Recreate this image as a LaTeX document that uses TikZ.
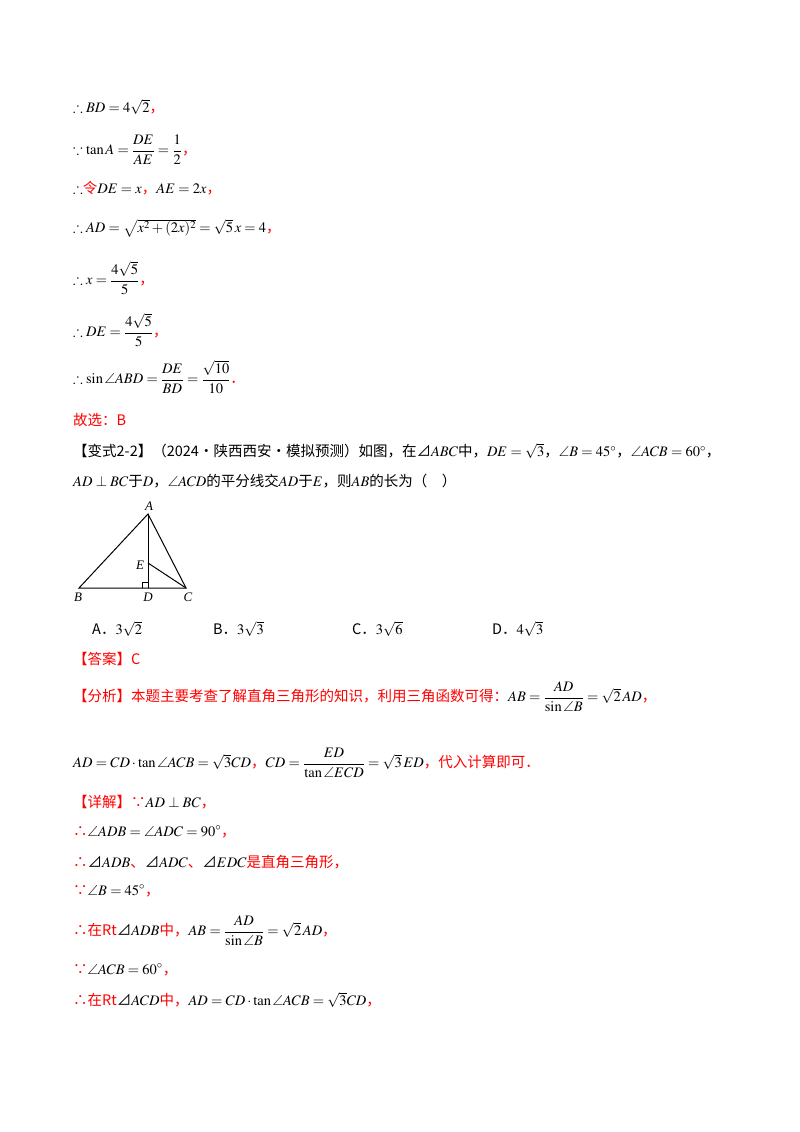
\documentclass[tikz,border=0pt]{standalone}
\usepackage{amsmath,amssymb}
\usepackage{mathptmx}
\usepackage{fontspec}
\setmainfont{Liberation Serif}
\newfontfamily\cjk{Noto Sans CJK SC}
\newcommand{\zh}[1]{{\cjk #1}}
\newcommand{\rz}[1]{\textcolor{red}{\cjk #1}}
\newcommand{\tri}{\text{\cjk ⊿}}
\begin{document}
\begin{tikzpicture}[x=1pt,y=-1pt,
  ln/.style={anchor=west,inner sep=0pt,font=\fontsize{14.5}{17}\selectfont},
  lbl/.style={inner sep=0pt,font=\fontsize{13}{15}\selectfont\itshape}]
\useasboundingbox (0,0) rectangle (800,1132);
\fill[white] (0,0) rectangle (800,1132);
\node[ln] (l1) at (73,107) {$\therefore BD=4\sqrt{2}$\rz{，}};
\node[ln] (l2) at (73,150) {$\because \tan A=\dfrac{DE}{AE}=\dfrac{1}{2}$\rz{，}};
\node[ln] (l3) at (73,188) {$\therefore$\rz{令}$DE=x$\rz{，}$AE=2x$\rz{，}};
\node[ln] (l4) at (73,228) {$\therefore AD=\sqrt{x^2+(2x)^2}=\sqrt{5}\,x=4$\rz{，}};
\node[ln] (l5) at (73,278) {$\therefore x=\dfrac{4\sqrt{5}}{5}$\rz{，}};
\node[ln] (l6) at (73,330) {$\therefore DE=\dfrac{4\sqrt{5}}{5}$\rz{，}};
\node[ln] (l7) at (73,377) {$\therefore \sin\angle ABD=\dfrac{DE}{BD}=\dfrac{\sqrt{10}}{10}$\rz{．}};
\node[ln] (l8) at (73,420) {\rz{故选：B}};
\node[ln] (l9) at (73,451) {\zh{【变式2-2】（2024·陕西西安·模拟预测）如图，在}$\tri ABC$\zh{中，}$DE=\sqrt{3}$\zh{，}$\angle B=45^\circ$\zh{，}$\angle ACB=60^\circ$\zh{，}};
\node[ln] (l10) at (73,481) {$AD\perp BC$\zh{于}$D$\zh{，}$\angle ACD$\zh{的平分线交}$AD$\zh{于}$E$\zh{，则}$AB$\zh{的长为（\quad ）}};
% figure
\coordinate (A) at (148,514);
\coordinate (B) at (79,588);
\coordinate (D) at (148,588);
\coordinate (C) at (186,588);
\coordinate (E) at (148,563);
\draw[line width=1pt] (A) -- (B) -- (C) -- cycle;
\draw[line width=1pt] (A) -- (D);
\draw[line width=1pt] (E) -- (C);
\draw[line width=0.7pt] (142,588) -- (142,582) -- (148,582);
\node[lbl] (tA) at (149,506) {A};
\node[lbl] (tB) at (78,597) {B};
\node[lbl] (tD) at (148,597) {D};
\node[lbl] (tC) at (188,597) {C};
\node[lbl] (tE) at (140,565) {E};
% options
\node[ln] (oA) at (92,629) {\zh{A．}$3\sqrt{2}$};
\node[ln] (oB) at (213,629) {\zh{B．}$3\sqrt{3}$};
\node[ln] (oC) at (352,629) {\zh{C．}$3\sqrt{6}$};
\node[ln] (oD) at (492,629) {\zh{D．}$4\sqrt{3}$};
\node[ln] (ans) at (73,659) {\rz{【答案】C}};
\node[ln] (an1) at (73,697) {\rz{【分析】本题主要考查了解直角三角形的知识，利用三角函数可得：}$AB=\dfrac{AD}{\sin\angle B}=\sqrt{2}\,AD$\rz{，}};
\node[ln] (an2) at (73,763) {$AD=CD\cdot\tan\angle ACB=\sqrt{3}CD$\rz{，}$CD=\dfrac{ED}{\tan\angle ECD}=\sqrt{3}\,ED$\rz{，代入计算即可．}};
\node[ln] (d1) at (73,802) {\rz{【详解】∵}$AD\perp BC$\rz{，}};
\node[ln] (d2) at (73,832) {\rz{∴}$\angle ADB=\angle ADC=90^\circ$\rz{，}};
\node[ln] (d3) at (73,862) {\rz{∴}$\tri ADB$\rz{、}$\tri ADC$\rz{、}$\tri EDC$\rz{是直角三角形，}};
\node[ln] (d4) at (73,891) {\rz{∵}$\angle B=45^\circ$\rz{，}};
\node[ln] (d5) at (73,931) {\rz{∴在Rt}$\tri ADB$\rz{中，}$AB=\dfrac{AD}{\sin\angle B}=\sqrt{2}\,AD$\rz{，}};
\node[ln] (d6) at (73,970) {\rz{∵}$\angle ACB=60^\circ$\rz{，}};
\node[ln] (d7) at (73,1000) {\rz{∴在Rt}$\tri ACD$\rz{中，}$AD=CD\cdot\tan\angle ACB=\sqrt{3}CD$\rz{，}};
\end{tikzpicture}
\end{document}
